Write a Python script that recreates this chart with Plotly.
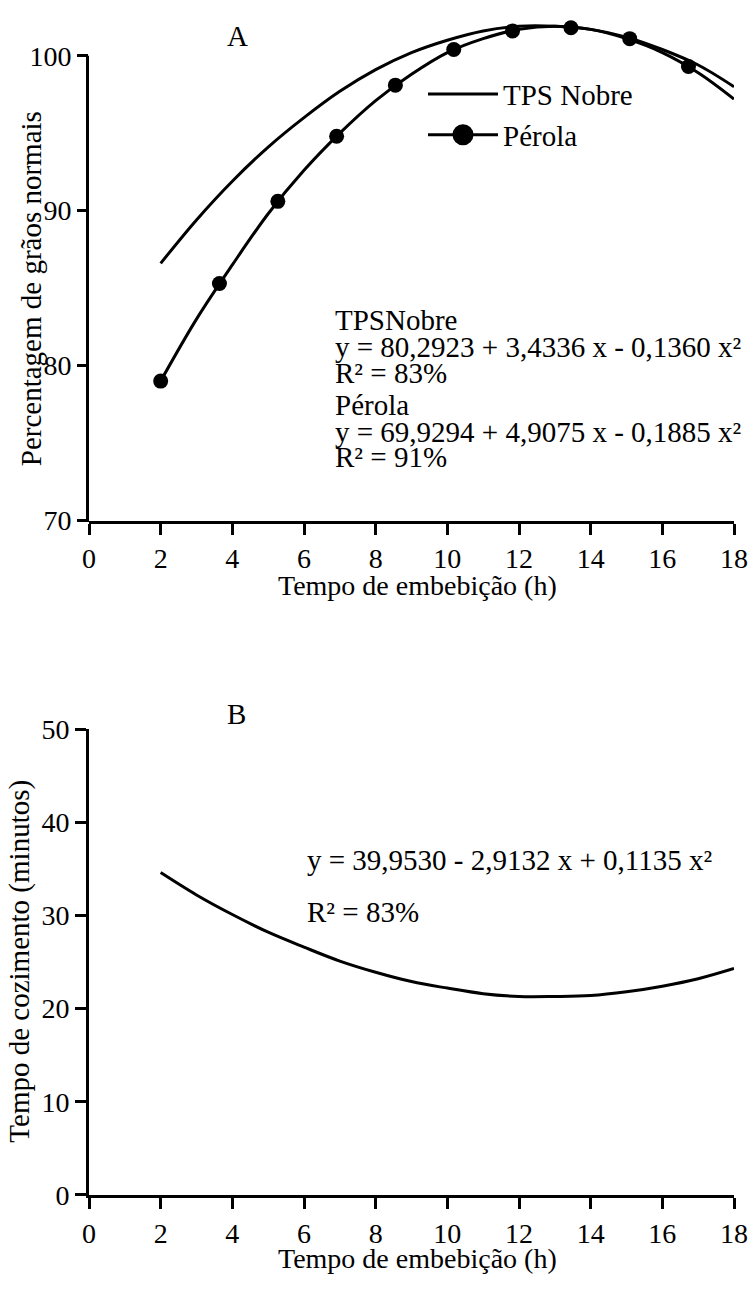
import plotly.graph_objects as go

# ---- data ----
x_curve = [2, 3, 4, 5, 6, 7, 8, 9, 10, 11, 12, 13, 14, 15, 16, 17, 18]
tps_nobre = [86.6, 89.4, 91.9, 94.1, 96.0, 97.7, 99.1, 100.2, 101.0, 101.6, 101.9, 101.9, 101.7, 101.2, 100.4, 99.4, 98.0]
perola_line = [79.0, 83.0, 86.5, 89.8, 92.6, 95.0, 97.1, 98.8, 100.2, 101.1, 101.7, 101.9, 101.7, 101.1, 100.2, 98.9, 97.2]
perola_x = [2, 3.64, 5.27, 6.91, 8.55, 10.18, 11.82, 13.45, 15.09, 16.73]
perola_y = [79.0, 85.3, 90.6, 94.8, 98.1, 100.4, 101.6, 101.8, 101.1, 99.3]
cozimento = [34.6, 32.2, 30.1, 28.2, 26.6, 25.1, 23.9, 22.9, 22.2, 21.6, 21.3, 21.3, 21.4, 21.8, 22.4, 23.2, 24.3]

x_ticks = [0, 2, 4, 6, 8, 10, 12, 14, 16, 18]
top_yticks = [70, 80, 90, 100]
bot_yticks = [0, 10, 20, 30, 40, 50]

FONT = "Liberation Serif"
W, H = 755, 1289
ML, MR = 89, 21
PW = W - ML - MR

def px_x(p):
    return (p - ML) / PW

def px_y(p):
    return 1 - p / H

# top panel: 70 at y=518 px, 100 at y=41.7 px
scale_top = (518 - 41.7) / 30.0
top_range = [70, 102.4]
top_dom = [px_y(518), px_y(518 - (top_range[1] - 70) * scale_top)]
bot_range = [0, 50]
bot_dom = [px_y(1209), px_y(731.7)]

fig = go.Figure()

fig.add_trace(go.Scatter(x=x_curve, y=tps_nobre, mode="lines", name="TPS Nobre",
                         line=dict(color="black", width=3, shape="spline"),
                         xaxis="x", yaxis="y"))
fig.add_trace(go.Scatter(x=x_curve, y=perola_line, mode="lines", showlegend=False,
                         line=dict(color="black", width=3, shape="spline"),
                         xaxis="x", yaxis="y"))
fig.add_trace(go.Scatter(x=perola_x, y=perola_y, mode="markers", showlegend=False,
                         marker=dict(color="black", size=15), cliponaxis=False,
                         xaxis="x", yaxis="y"))
fig.add_trace(go.Scatter(x=[None], y=[None], mode="lines+markers", name="Pérola",
                         line=dict(color="black", width=3),
                         marker=dict(color="black", size=16, line=dict(color="black", width=5)),
                         xaxis="x", yaxis="y"))
fig.add_trace(go.Scatter(x=x_curve, y=cozimento, mode="lines", showlegend=False,
                         line=dict(color="black", width=3, shape="spline"),
                         xaxis="x2", yaxis="y2"))

tickfont = dict(family=FONT, size=28, color="black")
axis_common = dict(showgrid=False, zeroline=False, ticks="outside", ticklen=11,
                   tickwidth=3, tickcolor="black", tickfont=tickfont,
                   ticklabeloverflow="allow")

fig.update_layout(
    width=W, height=H,
    margin=dict(l=ML, r=MR, t=0, b=0),
    paper_bgcolor="white", plot_bgcolor="white",
    font=dict(family=FONT, size=29, color="black"),
    xaxis=dict(domain=[0, 1], range=[0, 18], tickvals=x_ticks, anchor="y",
               showline=True, linewidth=3, linecolor="black", **axis_common),
    yaxis=dict(domain=top_dom, range=top_range, tickvals=top_yticks, anchor="x",
               showline=False, **axis_common),
    xaxis2=dict(domain=[0, 1], range=[0, 18], tickvals=x_ticks, anchor="y2",
                showline=True, linewidth=3, linecolor="black", **axis_common),
    yaxis2=dict(domain=bot_dom, range=bot_range, tickvals=bot_yticks, anchor="x2",
                showline=True, linewidth=3, linecolor="black", **axis_common),
    showlegend=True,
    legend=dict(x=px_x(423), y=px_y(55), xanchor="left", yanchor="top",
                bgcolor="rgba(0,0,0,0)", font=dict(family=FONT, size=29, color="black"),
                itemwidth=70),
)

# top y-axis line only spans 70-100
frac = (100 - top_range[0]) / (top_range[1] - top_range[0])
y_line_top = top_dom[0] + frac * (top_dom[1] - top_dom[0])
fig.add_shape(type="line", xref="paper", yref="paper",
              x0=-1.5 / PW, x1=-1.5 / PW, y0=top_dom[0] - 1.5 / H, y1=y_line_top,
              line=dict(color="black", width=3))

def ann(text, x, y, xanchor="left", angle=0, size=29):
    fig.add_annotation(text=text, x=x, y=y, xref="paper", yref="paper",
                       xanchor=xanchor, yanchor="middle", showarrow=False,
                       textangle=angle, font=dict(family=FONT, size=size, color="black"))

ann("A", px_x(237), px_y(22), "center")
ann("B", px_x(236), px_y(716), "center")
ann("Tempo de embebição (h)", px_x(418), px_y(585), "center", size=28)
ann("Tempo de embebição (h)", px_x(418), px_y(1274), "center", size=28)
ann("Percentagem de grãos normais", px_x(31), px_y(281), "center", -90)
ann("Tempo de cozimento (minutos)", px_x(20), px_y(970), "center", -90)

eq_lines = [("TPSNobre", 313), ("y = 80,2923 + 3,4336 x - 0,1360 x²", 340), ("R² = 83%", 367),
            ("Pérola", 400), ("y = 69,9294 + 4,9075 x - 0,1885 x²", 427), ("R² = 91%", 453)]
for t, yy in eq_lines:
    ann(t, px_x(333), px_y(yy))
ann("y = 39,9530 - 2,9132 x + 0,1135 x²", px_x(305), px_y(866))
ann("R² = 83%", px_x(305), px_y(919))

# remove the page's default 8px body margin so the 755x1289 figure fills the window
fig.write_html("out.html", config={"displayModeBar": False},
               post_script="document.body.style.margin='0px';")
